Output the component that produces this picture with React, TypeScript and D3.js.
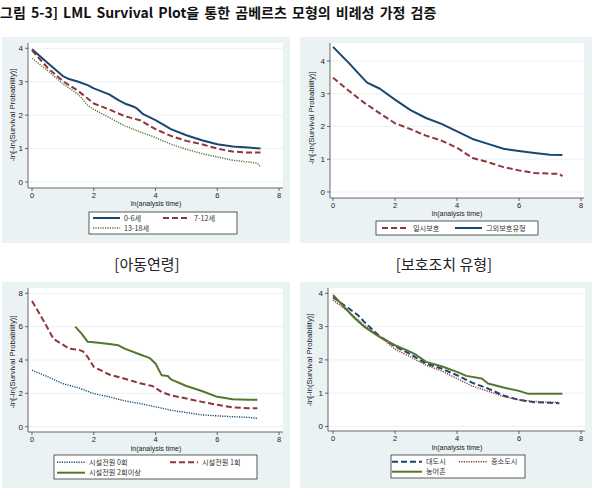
import React from "react";
import * as d3 from "d3";

// ---- data: -ln[-ln(S)] against ln(analysis time) ----
type Pt = [number, number];

const xTicks = [0, 2, 4, 6, 8];

// Panel A: child age groups
const ageLabels = ["0-6세", "7-12세", "13-18세"];
const age0to6: Pt[] = [[0, 3.97], [0.5, 3.57], [1, 3.17], [1.2, 3.08], [1.5, 3.0], [1.8, 2.9], [2, 2.8], [2.5, 2.62], [2.8, 2.45], [3, 2.35], [3.3, 2.25], [3.4, 2.2], [3.6, 2.03], [4, 1.85], [4.5, 1.58], [5, 1.4], [5.5, 1.25], [6, 1.13], [6.5, 1.06], [7, 1.03], [7.4, 1.0]];
const age7to12: Pt[] = [[0, 3.94], [0.5, 3.42], [1, 3.02], [1.5, 2.72], [1.8, 2.5], [2, 2.35], [2.5, 2.17], [3, 1.97], [3.5, 1.85], [4, 1.58], [4.5, 1.38], [5, 1.23], [5.5, 1.13], [6, 1.0], [6.5, 0.91], [7, 0.88], [7.4, 0.88]];
const age13to18: Pt[] = [[0, 3.7], [0.5, 3.34], [1, 2.94], [1.5, 2.62], [1.8, 2.3], [2, 2.17], [2.5, 1.93], [3, 1.68], [3.5, 1.5], [4, 1.33], [4.5, 1.13], [5, 0.98], [5.5, 0.85], [6, 0.75], [6.5, 0.65], [7, 0.6], [7.3, 0.56], [7.4, 0.45]];

// Panel B: type of protective measure
const careLabels = ["일시보호", "그외보호유형"];
const careTemporary: Pt[] = [[0, 3.49], [0.5, 3.1], [1, 2.73], [1.5, 2.41], [2, 2.1], [2.5, 1.92], [3, 1.72], [3.5, 1.57], [4, 1.35], [4.5, 1.04], [5, 0.91], [5.5, 0.76], [6, 0.66], [6.5, 0.58], [7, 0.56], [7.3, 0.56], [7.4, 0.48]];
const careOther: Pt[] = [[0, 4.43], [0.5, 3.95], [1, 3.44], [1.1, 3.34], [1.5, 3.16], [2, 2.82], [2.5, 2.5], [3, 2.26], [3.5, 2.08], [4, 1.85], [4.5, 1.62], [5, 1.47], [5.5, 1.32], [6, 1.25], [6.5, 1.19], [7, 1.14], [7.4, 1.13]];

// Panel C: number of prior facility transfers
const transferLabels = ["시설전원 0회", "시설전원 1회", "시설전원 2회이상"];
const transfer0: Pt[] = [[0, 3.39], [0.5, 3.0], [1, 2.58], [1.5, 2.34], [2, 1.98], [2.5, 1.79], [3, 1.55], [3.5, 1.39], [4, 1.19], [4.5, 0.99], [5, 0.85], [5.5, 0.71], [6, 0.65], [6.5, 0.6], [7, 0.56], [7.3, 0.5]];
const transfer1: Pt[] = [[0, 7.54], [0.3, 6.6], [0.7, 5.26], [1, 4.92], [1.2, 4.68], [1.5, 4.62], [1.65, 4.52], [1.8, 4.19], [2, 3.59], [2.5, 3.13], [3, 2.88], [3.5, 2.6], [3.9, 2.44], [4.2, 2.08], [4.5, 1.88], [5, 1.69], [5.5, 1.49], [6, 1.31], [6.5, 1.15], [7, 1.11], [7.3, 1.11]];
const transfer2plus: Pt[] = [[1.4, 6.0], [1.6, 5.6], [1.8, 5.1], [2, 5.06], [2.5, 4.96], [2.8, 4.88], [3, 4.68], [3.5, 4.33], [3.8, 4.13], [4, 3.79], [4.2, 3.08], [4.4, 3.04], [4.5, 2.84], [5, 2.44], [5.5, 2.14], [6, 1.79], [6.5, 1.65], [7, 1.61], [7.3, 1.61]];

// Panel D: region
const regionLabels = ["대도시", "중소도시", "농어촌"];
const regionMetro: Pt[] = [[0, 3.88], [0.5, 3.55], [0.8, 3.35], [1, 3.15], [1.5, 2.71], [2, 2.41], [2.5, 2.17], [3, 1.89], [3.5, 1.74], [4, 1.54], [4.5, 1.31], [5, 1.14], [5.5, 0.93], [6, 0.8], [6.5, 0.73], [7, 0.71], [7.3, 0.7]];
const regionCity: Pt[] = [[0, 3.8], [0.5, 3.45], [1, 3.05], [1.5, 2.71], [2, 2.32], [2.5, 2.09], [3, 1.84], [3.5, 1.67], [4, 1.44], [4.5, 1.21], [5, 1.06], [5.5, 0.9], [6, 0.8], [6.5, 0.75], [7, 0.73], [7.3, 0.72]];
const regionRural: Pt[] = [[0, 3.95], [0.3, 3.65], [0.7, 3.25], [1, 3.0], [1.5, 2.69], [2, 2.44], [2.5, 2.24], [2.7, 2.14], [3, 1.94], [3.5, 1.81], [4, 1.64], [4.3, 1.52], [4.8, 1.44], [5, 1.29], [5.5, 1.17], [6, 1.07], [6.3, 0.98], [7, 0.98], [7.4, 0.98]];

const titleText = "그림 5-3]  LML Survival Plot을 통한 곰베르츠 모형의 비례성 가정 검증";
const yTitle = "-ln[-ln(Survival Probability)]";
const xTitle = "ln(analysis time)";

// ---- styling ----
const NAVY = "#1a476f";
const MAROON = "#90353b";
const GREEN = "#55752f";
const REGION_BG = "#eaf2f3";
const GRID = "#eaf2f3";
const AXIS = "#444";
const SANS = "'Liberation Sans', Arial, sans-serif";
const KR = "'Noto Sans CJK KR', sans-serif";

type Style = { color: string; dash?: string; width: number };
type SeriesDef = { label: string; pts: Pt[]; style: Style };
type LegendItem = { label: string; style: Style; x: number; y: number; len: number };

type PanelDef = {
  bg: [number, number, number, number];
  plot: { left: number; right: number; top: number; bottom: number };
  xPx: [number, number];
  yPx: [number, number];
  yTicks: number[];
  xTickY: number;
  xTitlePos: [number, number];
  yTitlePos: [number, number];
  series: SeriesDef[];
  legendBox: [number, number, number, number];
  legend: LegendItem[];
};

const solidNavy: Style = { color: NAVY, width: 2 };
const dashMaroon: Style = { color: MAROON, dash: "6,3", width: 2 };
const dotGreen: Style = { color: GREEN, dash: "1.2,1.2", width: 1.4 };
const dotNavy: Style = { color: NAVY, dash: "1.2,1.2", width: 1.4 };
const dotMaroon: Style = { color: MAROON, dash: "1.2,1.2", width: 1.4 };
const solidGreen: Style = { color: GREEN, width: 2 };
const dashNavy: Style = { color: NAVY, dash: "6,3", width: 2 };

const panels: PanelDef[] = [
  {
    bg: [2, 37, 290, 243],
    plot: { left: 28, right: 283, top: 43, bottom: 188 },
    xPx: [32, 279],
    yPx: [182, 48.3],
    yTicks: [0, 1, 2, 3, 4],
    xTickY: 195.5,
    xTitlePos: [156, 204],
    yTitlePos: [12, 115],
    series: [
      { label: ageLabels[0], pts: age0to6, style: solidNavy },
      { label: ageLabels[1], pts: age7to12, style: dashMaroon },
      { label: ageLabels[2], pts: age13to18, style: dotGreen },
    ],
    legendBox: [89, 212, 148, 22],
    legend: [
      { label: ageLabels[0], style: solidNavy, x: 93, y: 218, len: 27 },
      { label: ageLabels[1], style: dashMaroon, x: 163, y: 218, len: 27 },
      { label: ageLabels[2], style: dotGreen, x: 93, y: 228, len: 27 },
    ],
  },
  {
    bg: [300, 37, 592, 243],
    plot: { left: 330, right: 584, top: 43, bottom: 198 },
    xPx: [333, 581],
    yPx: [192, 61],
    yTicks: [0, 1, 2, 3, 4],
    xTickY: 205.5,
    xTitlePos: [457, 214],
    yTitlePos: [311, 118],
    series: [
      { label: careLabels[0], pts: careTemporary, style: dashMaroon },
      { label: careLabels[1], pts: careOther, style: solidNavy },
    ],
    legendBox: [376, 221, 162, 14],
    legend: [
      { label: careLabels[0], style: dashMaroon, x: 382, y: 228, len: 27 },
      { label: careLabels[1], style: solidNavy, x: 455, y: 228, len: 27 },
    ],
  },
  {
    bg: [2, 282, 290, 488],
    plot: { left: 28, right: 283, top: 288, bottom: 432 },
    xPx: [32, 279],
    yPx: [426.7, 293.3],
    yTicks: [0, 2, 4, 6, 8],
    xTickY: 439.5,
    xTitlePos: [156, 448.5],
    yTitlePos: [12, 362],
    series: [
      { label: transferLabels[0], pts: transfer0, style: dotNavy },
      { label: transferLabels[1], pts: transfer1, style: dashMaroon },
      { label: transferLabels[2], pts: transfer2plus, style: solidGreen },
    ],
    legendBox: [54, 455, 203, 24],
    legend: [
      { label: transferLabels[0], style: dotNavy, x: 57, y: 462.3, len: 28 },
      { label: transferLabels[1], style: dashMaroon, x: 170, y: 462.3, len: 28 },
      { label: transferLabels[2], style: solidGreen, x: 57, y: 472.7, len: 28 },
    ],
  },
  {
    bg: [300, 282, 592, 488],
    plot: { left: 328, right: 585, top: 288, bottom: 431 },
    xPx: [333, 581],
    yPx: [426.5, 293.3],
    yTicks: [0, 1, 2, 3, 4],
    xTickY: 438.5,
    xTitlePos: [457, 447.5],
    yTitlePos: [309, 360],
    series: [
      { label: regionLabels[0], pts: regionMetro, style: dashNavy },
      { label: regionLabels[1], pts: regionCity, style: dotMaroon },
      { label: regionLabels[2], pts: regionRural, style: solidGreen },
    ],
    legendBox: [391, 455, 134, 23],
    legend: [
      { label: regionLabels[0], style: dashNavy, x: 392, y: 461.7, len: 30 },
      { label: regionLabels[1], style: dotMaroon, x: 459, y: 461.7, len: 28 },
      { label: regionLabels[2], style: solidGreen, x: 392, y: 471.7, len: 30 },
    ],
  },
];

const captions = [
  { text: "[아동연령]", x: 147, y: 265 },
  { text: "[보호조치 유형]", x: 444, y: 265 },
];

function Panel({ p }: { p: PanelDef }) {
  const x = d3.scaleLinear().domain([0, 8]).range(p.xPx);
  const y = d3.scaleLinear().domain([0, p.yTicks[p.yTicks.length - 1]]).range(p.yPx);
  const line = d3
    .line<Pt>()
    .x((d) => x(d[0]))
    .y((d) => y(d[1]));
  const [bx0, by0, bx1, by1] = p.bg;
  const { left, right, top, bottom } = p.plot;
  return (
    <g>
      <rect x={bx0} y={by0} width={bx1 - bx0} height={by1 - by0} fill={REGION_BG} />
      <rect x={left} y={top} width={right - left} height={bottom - top} fill="#fff" />
      {p.yTicks.map((t) => (
        <line key={"g" + t} x1={left} x2={right} y1={y(t)} y2={y(t)} stroke={GRID} strokeWidth={1} />
      ))}
      {/* axes */}
      <line x1={left} x2={left} y1={top} y2={bottom} stroke={AXIS} strokeWidth={0.8} />
      <line x1={left} x2={right} y1={bottom} y2={bottom} stroke={AXIS} strokeWidth={0.8} />
      {p.yTicks.map((t) => (
        <g key={"y" + t}>
          <line x1={left - 3} x2={left} y1={y(t)} y2={y(t)} stroke={AXIS} strokeWidth={0.8} />
          <text x={left - 5} y={y(t)} dy="0.35em" textAnchor="end" fontSize={8} fontFamily={SANS} fill="#222">
            {t}
          </text>
        </g>
      ))}
      {xTicks.map((t) => (
        <g key={"x" + t}>
          <line x1={x(t)} x2={x(t)} y1={bottom} y2={bottom + 3} stroke={AXIS} strokeWidth={0.8} />
          <text x={x(t)} y={p.xTickY} dy="0.35em" textAnchor="middle" fontSize={7.5} fontFamily={SANS} fill="#222">
            {t}
          </text>
        </g>
      ))}
      <text x={p.xTitlePos[0]} y={p.xTitlePos[1]} dy="0.35em" textAnchor="middle" fontSize={7} fontFamily={SANS} fill="#222">
        {xTitle}
      </text>
      <text
        transform={`translate(${p.yTitlePos[0]},${p.yTitlePos[1]}) rotate(-90)`}
        dy="0.35em"
        textAnchor="middle"
        fontSize={7.8}
        fontFamily={SANS}
        fill="#222"
      >
        {yTitle}
      </text>
      {p.series.map((s) => (
        <path
          key={s.label}
          d={line(s.pts) || ""}
          fill="none"
          stroke={s.style.color}
          strokeWidth={s.style.width}
          strokeDasharray={s.style.dash}
          strokeLinejoin="round"
        />
      ))}
      <rect
        x={p.legendBox[0]}
        y={p.legendBox[1]}
        width={p.legendBox[2]}
        height={p.legendBox[3]}
        fill="#fff"
        stroke="#333"
        strokeWidth={0.8}
      />
      {p.legend.map((l) => (
        <g key={"l" + l.label}>
          <line
            x1={l.x}
            x2={l.x + l.len}
            y1={l.y}
            y2={l.y}
            stroke={l.style.color}
            strokeWidth={l.style.width}
            strokeDasharray={l.style.dash}
          />
          <text x={l.x + l.len + 4} y={l.y} dy="0.35em" fontSize={7.2} fontFamily={KR} fill="#333">
            {l.label}
          </text>
        </g>
      ))}
    </g>
  );
}

export default function App() {
  return (
    <svg width={594} height={500} style={{ position: "absolute", left: 0, top: 0, background: "#fff" }}>
      <text x={0} y={18} fontSize={14} fontWeight="bold" fontFamily={KR} fill="#111" wordSpacing={2}>
        {titleText}
      </text>
      {panels.map((p, i) => (
        <Panel key={i} p={p} />
      ))}
      {captions.map((c) => (
        <text key={c.text} x={c.x} y={c.y} dy="0.35em" textAnchor="middle" fontSize={15} fontFamily={KR} fill="#222">
          {c.text}
        </text>
      ))}
    </svg>
  );
}
